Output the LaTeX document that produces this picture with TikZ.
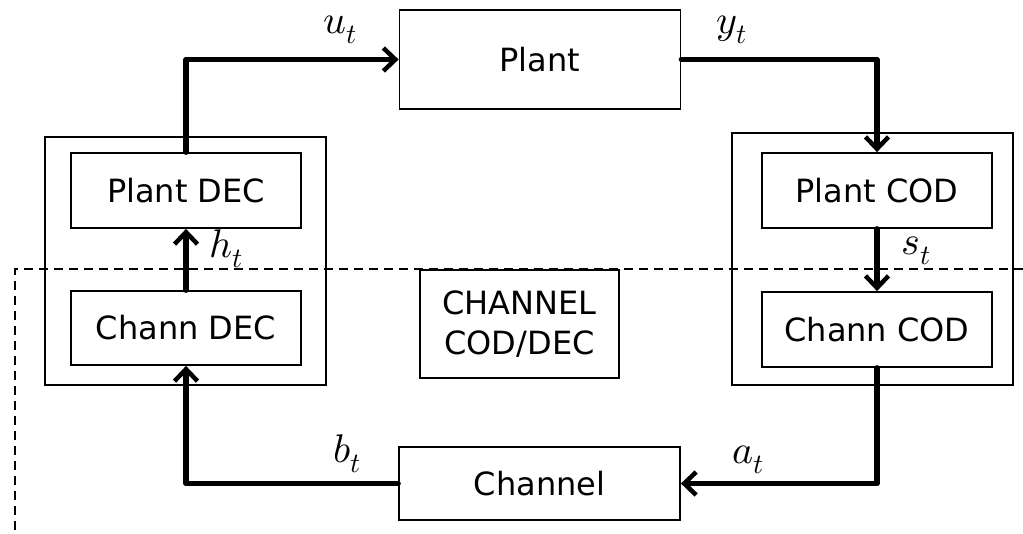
\documentclass[tikz,border=0pt]{standalone}
\usepackage{fontspec}
\usepackage{unicode-math}
\setmainfont{DejaVu Sans}
\usetikzlibrary{arrows.meta}
\begin{document}
\begin{tikzpicture}[x=1pt,y=-1pt,
  block/.style={draw, line width=1.8pt, fill=white, inner sep=0pt,
    align=center, font=\fontsize{32}{40}\selectfont},
  frame/.style={draw, line width=1.8pt, inner sep=0pt},
  sig/.style={line width=5.5pt, line cap=round, line join=round,
    -{Straight Barb[length=12pt,width=23pt,line width=4.5pt]}},
  lab/.style={inner sep=1pt, font=\fontsize{40}{48}\selectfont},
  border/.style={line width=1.2pt, dash pattern=on 9pt off 6pt}
]
\useasboundingbox (0,0) rectangle (1023,533);

% partition between plant side and channel side
\draw[border] (1023,269) -| (15,533);

% decoder and coder groups
\node[frame, minimum width=281pt, minimum height=248pt] (decgrp) at (185.5,261) {};
\node[frame, minimum width=281pt, minimum height=252pt] (codgrp) at (872.5,259) {};

% blocks
\node[block, minimum width=281pt, minimum height=99pt] (plant) at (540,59.5) {Plant};
\node[block, minimum width=230pt, minimum height=75pt] (pdec) at (186,190.5) {Plant DEC};
\node[block, minimum width=230pt, minimum height=74pt] (cdec) at (186,328) {Chann DEC};
\node[block, minimum width=230pt, minimum height=75pt] (pcod) at (877,190.5) {Plant COD};
\node[block, minimum width=230pt, minimum height=75pt] (ccod) at (877,329.5) {Chann COD};
\node[block, minimum width=199pt, minimum height=108pt] (ccd) at (519.5,324) {CHANNEL\\COD/DEC};
\node[block, minimum width=281pt, minimum height=73pt] (chan) at (539.5,483.5) {Channel};

% signal flow
\draw[sig] (pdec.north) |- (plant.west);
\draw[sig] (plant.east) -| (pcod.north);
\draw[sig] (pcod.south) -- (ccod.north);
\draw[sig] (ccod.south) |- (chan.east);
\draw[sig] (chan.west) -| (cdec.south);
\draw[sig] (cdec.north) -- (pdec.south);

% signal labels
\node[lab] (lu) at (340,30) {$u_t$};
\node[lab] (ly) at (732,30) {$y_t$};
\node[lab] (lh) at (226,249) {$h_t$};
\node[lab] (ls) at (916,251) {$s_t$};
\node[lab] (lb) at (347,454) {$b_t$};
\node[lab] (la) at (748,460) {$a_t$};
\end{tikzpicture}
\end{document}
